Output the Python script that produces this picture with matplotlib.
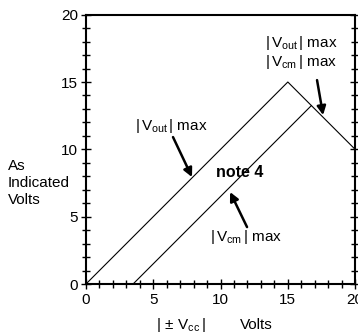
import matplotlib
matplotlib.use('Agg')
import matplotlib.pyplot as plt
import numpy as np

plt.rcParams['font.family'] = ['Liberation Sans', 'DejaVu Sans']
plt.rcParams['mathtext.fontset'] = 'custom'
plt.rcParams['mathtext.rm'] = 'Liberation Sans'
plt.rcParams['mathtext.it'] = 'Liberation Sans'

# supply voltage |±Vcc| and the two limit curves
vcc_out = [0, 15, 20]
vout_max = [0, 15, 10]
vcc_cm = [3.5, 16.75]
vcm_max = [0, 13.25]

x_ticks = [0, 5, 10, 15, 20]
y_ticks = [0, 5, 10, 15, 20]

fs = 11

fig = plt.figure(figsize=(3.58, 3.33), dpi=100)
ax = fig.add_axes([0.240, 0.147, 0.752, 0.809])

ax.plot(vcc_out, vout_max, color='black', lw=0.8)
ax.plot(vcc_cm, vcm_max, color='black', lw=0.8)

ax.set_xlim(0, 20)
ax.set_ylim(0, 20)
ax.set_xticks(x_ticks)
ax.set_yticks(y_ticks)
ax.set_xticks(np.arange(0, 21, 1), minor=True)
ax.set_yticks(np.arange(0, 21, 1), minor=True)
ax.tick_params(which='major', direction='inout', length=7, width=1.0,
               labelsize=fs, pad=2, right=True)
ax.tick_params(which='minor', direction='inout', length=6, width=1.0, right=True)
ax.tick_params(axis='x', which='major', pad=3)
ax.tick_params(axis='y', which='both', labelright=False)
for s in ax.spines.values():
    s.set_linewidth(1.5)

arrow = dict(arrowstyle='-|>', lw=1.8, color='black', mutation_scale=13,
             shrinkA=0, shrinkB=0)

ax.text(6.32, 11.73, r'$|\,\mathrm{V_{out}}\,|$ max', ha='center', va='center', fontsize=fs)
ax.annotate('', xy=(7.88, 7.94), xytext=(6.47, 10.91), arrowprops=arrow)

ax.text(11.45, 8.31, 'note 4', ha='center', va='center', fontsize=11.5,
        fontweight='semibold')

ax.text(11.9, 3.49, r'$|\,\mathrm{V_{cm}}\,|$ max', ha='center', va='center', fontsize=fs)
ax.annotate('', xy=(10.71, 6.83), xytext=(11.97, 4.23), arrowprops=arrow)

ax.text(13.31, 17.89, r'$|\,\mathrm{V_{out}}\,|$ max', ha='left', va='center', fontsize=fs)
ax.text(13.31, 16.47, r'$|\,\mathrm{V_{cm}}\,|$ max', ha='left', va='center', fontsize=fs)
ax.annotate('', xy=(17.62, 12.54), xytext=(17.17, 15.14), arrowprops=arrow)

fig.text(8 / 358, 1 - 183 / 333, 'As\nIndicated\nVolts', ha='left', va='center',
         fontsize=fs, linespacing=1.27)
fig.text(181 / 358, 1 - 325 / 333, r'$|\,\pm\,\mathrm{V_{cc}}\,|$', ha='center',
         va='center', fontsize=fs)
fig.text(256 / 358, 1 - 325 / 333, 'Volts', ha='center', va='center', fontsize=fs)

fig.savefig('out.png', dpi=100)
